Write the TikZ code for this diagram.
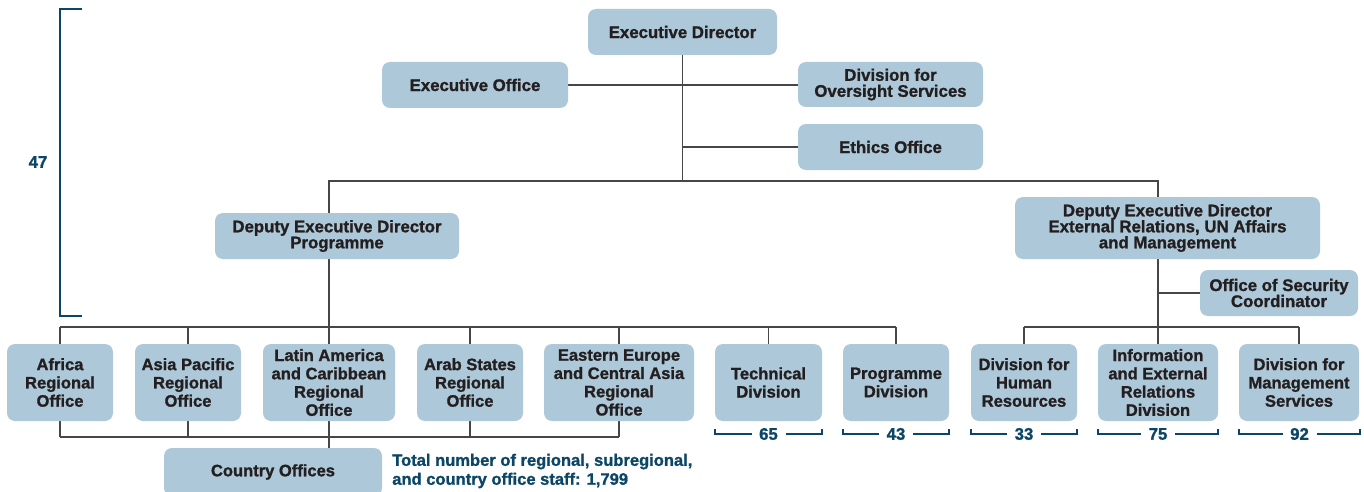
\documentclass[tikz,border=0pt]{standalone}
\usepackage{fontspec}
\setmainfont{Liberation Sans}[BoldFeatures={FakeBold=1.2}]
\usetikzlibrary{backgrounds}
\definecolor{boxblue}{RGB}{173,200,216}
\definecolor{boxtext}{RGB}{35,31,32}
\definecolor{linegray}{RGB}{70,70,70}
\definecolor{navy}{RGB}{12,70,102}
\newcommand\staffbr[3]{%
  \draw[staff] (#1,429) -- (#1,434) -- ({(#1+#2)/2-17},434);
  \draw[staff] ({(#1+#2)/2+17},434) -- (#2,434) -- (#2,429);
  \node[stafftext] at ({(#1+#2)/2},434) {#3};}
\begin{document}
\begin{tikzpicture}[x=0.75pt,y=-0.75pt,
  box/.style={fill=boxblue, rounded corners=6pt, align=center, text=boxtext, inner sep=0pt},
  topbox/.style={box, font=\bfseries\fontsize{12.6}{12}\selectfont},
  lowbox/.style={box, font=\bfseries\fontsize{12.4}{13.7}\selectfont},
  sz/.style 2 args={minimum width=#1*0.75pt, minimum height=#2*0.75pt},
  link/.style={draw=linegray, line width=1.1pt},
  staff/.style={draw=navy, line width=1.9pt},
  stafftext/.style={text=navy, font=\bfseries\fontsize{12.6}{14}\selectfont, inner sep=0pt},
  ]
\useasboundingbox (0,0) rectangle (1364,492);
\clip (0,0) rectangle (1364,492);

% top level
\node[topbox, sz={189}{46}] (ed) at (682.5,32) {Executive Director};
\node[topbox, sz={186}{46}] (eo) at (475,85) {Executive Office};
\node[topbox, sz={185}{45}] (dos) at (890.5,84.5) {Division for\\Oversight Services};
\node[topbox, sz={185}{46}] (eth) at (890.5,147) {Ethics Office};
\node[topbox, sz={244}{46}] (dedp) at (337,236) {Deputy Executive Director\\Programme};
\node[topbox, sz={305}{62}] (dede) at (1167.5,228) {Deputy Executive Director\\External Relations, UN Affairs\\and Management};
\node[topbox, sz={158}{46}] (osc) at (1279,293) {Office of Security\\Coordinator};

% bottom row
\node[lowbox, sz={106}{77}] (africa) at (60,382.5) {Africa\\Regional\\Office};
\node[lowbox, sz={106}{77}] (asia) at (188,382.5) {Asia Pacific\\Regional\\Office};
\node[lowbox, sz={132}{77}] (latam) at (329,382.5) {Latin America\\and Caribbean\\Regional\\Office};
\node[lowbox, sz={106}{77}] (arab) at (470,382.5) {Arab States\\Regional\\Office};
\node[lowbox, sz={150}{77}] (eeca) at (619,382.5) {Eastern Europe\\and Central Asia\\Regional\\Office};
\node[lowbox, sz={107}{77}] (tech) at (768.5,382.5) {Technical\\Division};
\node[lowbox, sz={106}{77}] (prog) at (896,382.5) {Programme\\Division};
\node[lowbox, sz={106}{77}] (hr) at (1024,382.5) {Division for\\Human\\Resources};
\node[lowbox, sz={120}{77}] (info) at (1158,382.5) {Information\\and External\\Relations\\Division};
\node[lowbox, sz={120}{77}] (mgmt) at (1299,382.5) {Division for\\Management\\Services};
\node[lowbox, sz={218}{48}] (co) at (273,472) {Country Offices};

% connectors
\coordinate (tbL) at (329,181);
\coordinate (tbR) at (1158,181);
\coordinate (lbL) at (60,327);
\coordinate (rbL) at (1024,327);
\coordinate (sbL) at (60,437);
\begin{pgfonlayer}{background}
\draw[link] (ed.south) -- (ed.south |- tbL);
\draw[link] (eo.east) -- (eo.east -| dos.west);
\draw[link] (ed.south |- eth.west) -- (eth.west);
\draw[link] (tbL |- dedp.north) -- (tbL) -- (tbR) -- (tbR |- dede.north);
% programme branch
\draw[link] (tbL |- dedp.south) -- (tbL |- lbL);
\draw[link] (africa.north |- lbL) -- (prog.north |- lbL);
\foreach \n in {africa,asia,latam,arab,eeca,tech,prog}
  \draw[link] (\n.north) -- (\n.north |- lbL);
% management branch
\draw[link] (tbR |- dede.south) -- (tbR |- rbL);
\draw[link] (tbR |- osc.west) -- (osc.west);
\draw[link] (hr.north |- rbL) -- (mgmt.north |- rbL);
\foreach \n in {hr,info,mgmt}
  \draw[link] (\n.north) -- (\n.north |- rbL);
% regional offices to country offices
\draw[link] (africa.south |- sbL) -- (eeca.south |- sbL);
\foreach \n in {africa,asia,arab,eeca}
  \draw[link] (\n.south) -- (\n.south |- sbL);
\draw[link] (latam.south) -- (latam.south |- co.north);
\end{pgfonlayer}

% staff brackets
\draw[staff] (82,9) -- (60,9) -- (60,316) -- (82,316);
\node[stafftext] at (38,162) {47};
\staffbr{715}{822}{65}
\staffbr{843}{949}{43}
\staffbr{971}{1077}{33}
\staffbr{1098}{1218}{75}
\staffbr{1239}{1360}{92}
\node[stafftext, anchor=west, align=left, font=\bfseries\fontsize{12.4}{14.2}\selectfont] (total) at (392,471)
  {Total number of regional, subregional,\\and country office staff: 1,799};
\end{tikzpicture}
\end{document}
